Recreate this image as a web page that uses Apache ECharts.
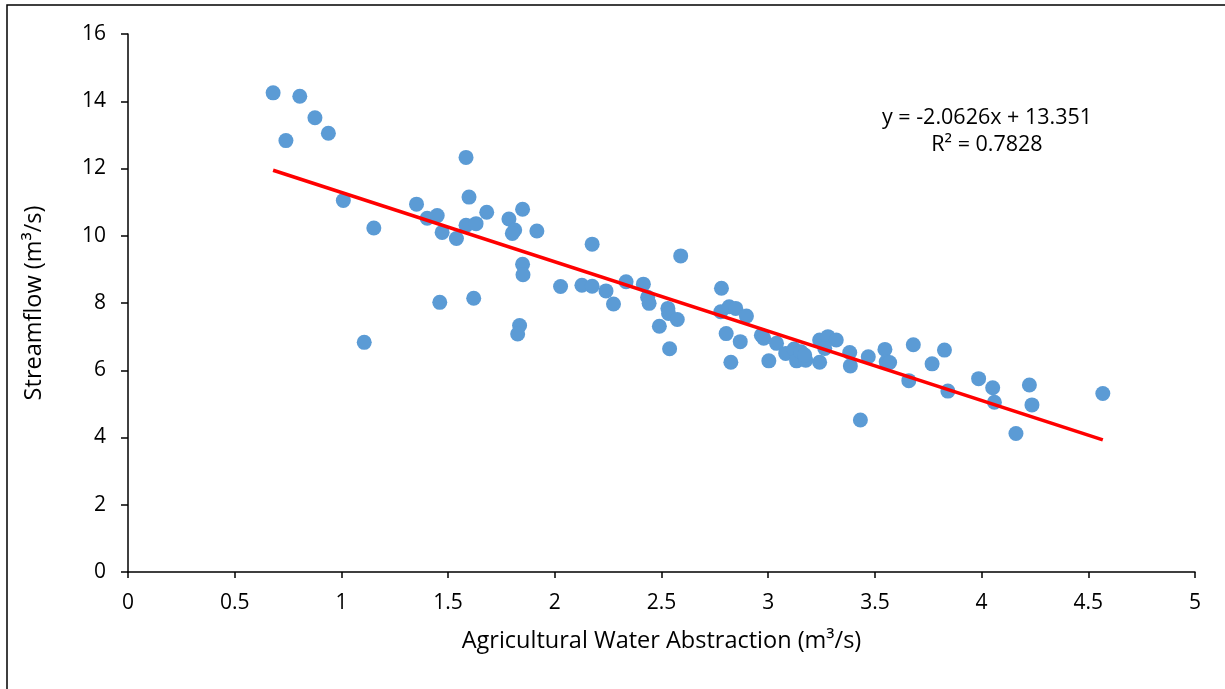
<!DOCTYPE html>
<html lang="en">
<head>
    <meta charset="UTF-8">
    <title>Streamflow vs Agricultural Water Abstraction</title>
    <style>
        html, body { margin: 0; padding: 0; background: #fff; }
    </style>
</head>
<body>
<div id="main" style="width: 1225px;height: 689px;"></div>
<script src="https://cdn.jsdelivr.net/npm/echarts@6/dist/echarts.min.js"></script>
<script type="text/javascript">

    // abstraction (m3/s)
    var abstraction = [
        0.68, 0.805, 0.876, 0.939, 0.74, 1.009, 1.152, 1.107, 1.352, 1.402,
        1.449, 1.472, 1.539, 1.584, 1.598, 1.584, 1.631, 1.681, 1.785, 1.812,
        1.801, 1.849, 1.916, 1.849, 1.851, 2.175, 2.027, 2.127, 2.175, 2.24,
        2.275, 2.334, 1.461, 1.62, 1.835, 1.826, 2.415, 2.435, 2.442, 2.59,
        2.53, 2.533, 2.574, 2.49, 2.538, 2.781, 2.778, 2.817, 2.848, 2.898,
        2.803, 2.869, 2.825, 2.968, 2.979, 3.039, 3.003, 3.082, 3.121, 3.133,
        3.153, 3.176, 3.171, 3.241, 3.28, 3.319, 3.265, 3.241, 3.382, 3.385,
        3.469, 3.547, 3.553, 3.569, 3.432, 3.68, 3.659, 3.768, 3.826, 3.842,
        3.986, 4.052, 4.06, 4.161, 4.224, 4.236, 4.568
    ];
    // streamflow (m3/s), same order
    var streamflow = [
        14.25, 14.15, 13.51, 13.05, 12.83, 11.05, 10.23, 6.83, 10.94, 10.52,
        10.6, 10.1, 9.92, 12.33, 11.15, 10.31, 10.36, 10.7, 10.5, 10.17,
        10.07, 10.79, 10.14, 9.15, 8.84, 9.75, 8.49, 8.53, 8.5, 8.36,
        7.97, 8.63, 8.02, 8.14, 7.33, 7.08, 8.56, 8.17, 7.99, 9.4,
        7.84, 7.69, 7.51, 7.31, 6.64, 8.44, 7.74, 7.89, 7.84, 7.61,
        7.09, 6.85, 6.24, 7.04, 6.95, 6.8, 6.28, 6.5, 6.63, 6.28,
        6.55, 6.3, 6.45, 6.9, 7.0, 6.9, 6.65, 6.24, 6.53, 6.13,
        6.4, 6.62, 6.25, 6.23, 4.52, 6.76, 5.69, 6.19, 6.6, 5.38,
        5.75, 5.48, 5.05, 4.12, 5.56, 4.97, 5.31
    ];

    // linear trend shown on the chart
    var slope = -2.0626;
    var intercept = 13.351;
    var rSquared = 0.7828;

    var points = [];
    for (var i = 0; i < abstraction.length; i++) {
        points.push([abstraction[i], streamflow[i]]);
    }

    var xMin = Math.min.apply(null, abstraction);
    var xMax = Math.max.apply(null, abstraction);
    var trend = [
        [xMin, slope * xMin + intercept],
        [xMax, slope * xMax + intercept]
    ];

    var font = '"Open Sans"';

    var option = {
        backgroundColor: '#fff',
        animation: false,
        grid: {
            left: 128,
            top: 34,
            width: 1067,
            height: 538
        },
        xAxis: {
            type: 'value',
            min: 0,
            max: 5,
            interval: 0.5,
            name: 'Agricultural Water Abstraction (m³/s)',
            nameLocation: 'middle',
            nameGap: 57,
            nameTextStyle: { color: '#000', fontSize: 23.5, fontFamily: font },
            axisLine: { show: true, lineStyle: { color: '#000', width: 1.5 } },
            axisTick: { show: true, inside: false, length: 6, lineStyle: { color: '#000', width: 1.5 } },
            axisLabel: { color: '#000', fontSize: 21, fontFamily: font, margin: 21 },
            splitLine: { show: false }
        },
        yAxis: {
            type: 'value',
            min: 0,
            max: 16,
            interval: 2,
            name: 'Streamflow (m³/s)',
            nameLocation: 'middle',
            nameGap: 82,
            nameTextStyle: { color: '#000', fontSize: 23.5, fontFamily: font },
            axisLine: { show: true, lineStyle: { color: '#000', width: 1.5 } },
            axisTick: { show: true, inside: false, length: 7, lineStyle: { color: '#000', width: 1.5 } },
            axisLabel: { color: '#000', fontSize: 21, fontFamily: font, margin: 22 },
            splitLine: { show: false }
        },
        graphic: [
            {
                // outer chart frame (left and top edges visible)
                type: 'rect',
                shape: { x: 7, y: 5, width: 1240, height: 700 },
                style: { fill: 'none', stroke: '#000', lineWidth: 1.5 },
                silent: true
            },
            {
                type: 'text',
                x: 987,
                y: 118,
                style: {
                    text: 'y = ' + slope + 'x + ' + intercept,
                    fill: '#000',
                    font: '21.5px ' + font,
                    textAlign: 'center',
                    textVerticalAlign: 'middle'
                }
            },
            {
                type: 'text',
                x: 987,
                y: 145,
                style: {
                    text: 'R² = ' + rSquared,
                    fill: '#000',
                    font: '21.5px ' + font,
                    textAlign: 'center',
                    textVerticalAlign: 'middle'
                }
            }
        ],
        series: [
            {
                name: 'Observed',
                type: 'scatter',
                symbol: 'circle',
                symbolSize: 15,
                itemStyle: { color: '#5B9BD5', opacity: 1 },
                data: points,
                z: 2
            },
            {
                name: 'Linear trend',
                type: 'line',
                symbol: 'none',
                lineStyle: { color: '#FF0000', width: 3.5 },
                data: trend,
                z: 3
            }
        ]
    };

    var myChart = echarts.init(document.getElementById('main'));
    myChart.setOption(option);
</script>
</body>
</html>
